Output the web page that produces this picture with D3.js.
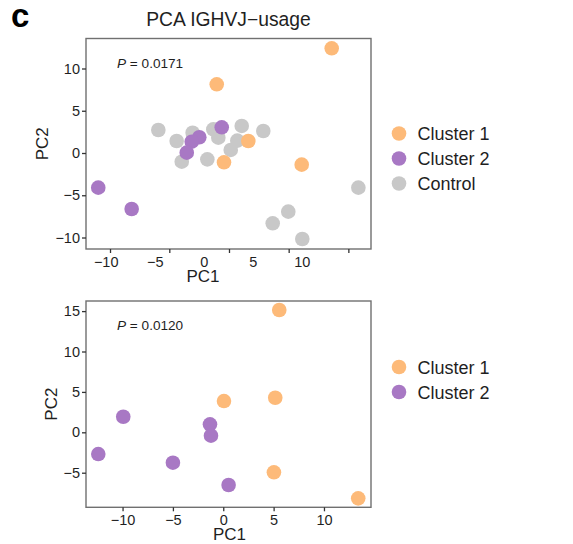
<!DOCTYPE html>
<html>
<head>
<meta charset="utf-8">
<script src="https://cdn.jsdelivr.net/npm/d3@7/dist/d3.min.js"></script>
<style>
  html, body { margin: 0; padding: 0; background: #fff; }
  svg { display: block; font-family: "Liberation Sans", Arial, sans-serif; }
</style>
</head>
<body>
<svg id="chart" width="573" height="544"></svg>
<script>
// Group names and colours
const groups = ["Cluster 1", "Cluster 2", "Control"];
const groupColors = ["#FDBA79", "#A878C4", "#C8C8C8"];

// Panel 1: PCA of IGHV-J usage, all samples  [PC1, PC2]
const topCluster1 = [[13.06, 12.39], [1.33, 8.13], [4.55, 1.42], [2.07, -1.10], [10.0, -1.38]];
const topCluster2 = [[-10.76, -4.10], [-7.35, -6.63], [1.84, 3.04], [-0.45, 1.86], [-1.22, 1.34], [-1.73, 0.04]];
const topControl = [[-4.63, 2.72], [-2.76, 1.42], [-1.13, 2.40], [-2.24, -1.03], [0.37, -0.75],
                    [0.98, 2.80], [1.49, 1.81], [2.76, 0.36], [3.43, 1.46], [3.88, 3.20],
                    [6.08, 2.60], [15.78, -4.10], [8.63, -6.94], [7.04, -8.32], [10.06, -10.18]];
const topXLabels = [-10, -5, 0, 5, 10];
const topXTickMarks = [-9.56, -3.51, 2.58, 8.67, 14.76];
const topYTicks = [-10, -5, 0, 5, 10];
const topXDomain = [-12.01, 17.07];
const topYDomain = [-11.36, 13.55];
const topP = "0.0171";

// Panel 2: clusters only  [PC1, PC2]
const botCluster1 = [[5.56, 15.14], [0.07, 3.87], [5.16, 4.28], [5.03, -4.95], [13.4, -8.17]];
const botCluster2 = [[-12.41, -2.69], [-9.93, 1.93], [-5.0, -3.76], [-1.32, 0.99], [-1.22, -0.42], [0.53, -6.52]];
const botXTicks = [-10, -5, 0, 5, 10];
const botYTicks = [-5, 0, 5, 10, 15];
const botXDomain = [-13.63, 14.67];
const botYDomain = [-9.28, 16.25];
const botP = "0.0120";

const svg = d3.select("#chart");
const color = d3.scaleOrdinal().domain(groups).range(groupColors);
const textCol = "#1f1f1f";

// Panel tag and title
svg.append("text").attr("x", 11).attr("y", 26.5)
  .attr("font-size", 33).attr("font-weight", "bold").attr("fill", "#000").text("c");
svg.append("text").attr("x", 228.5).attr("y", 25.7).attr("text-anchor", "middle")
  .attr("font-size", 19.3).attr("fill", textCol).text("PCA IGHVJ\u2212usage");

function panel(opts) {
  const { left, right, top, bottom } = opts.box;
  const x = d3.scaleLinear().domain(opts.xDomain).range([left, right]);
  const y = d3.scaleLinear().domain(opts.yDomain).range([bottom, top]);
  const g = svg.append("g");

  // points: controls underneath, clusters on top
  opts.series.forEach(s => {
    g.append("g").selectAll("circle").data(s.values).join("circle")
      .attr("cx", d => x(d[0])).attr("cy", d => y(d[1])).attr("r", 7.3)
      .attr("fill", color(s.name));
  });

  // frame
  g.append("rect").attr("x", left).attr("y", top)
    .attr("width", right - left).attr("height", bottom - top)
    .attr("fill", "none").attr("stroke", "#707070").attr("stroke-width", 1.4);

  const styleAxis = a => {
    a.select(".domain").remove();
    a.selectAll(".tick line").attr("stroke", "#333").attr("stroke-width", 1.3);
    a.selectAll(".tick text").attr("fill", textCol).attr("font-size", 14.5)
      .attr("font-family", "'Liberation Sans', Arial, sans-serif");
  };

  // y axis
  const ya = g.append("g").attr("transform", `translate(${left},0)`)
    .call(d3.axisLeft(y).tickValues(opts.yTicks).tickSize(4).tickPadding(2)
      .tickFormat(d => d3.format("d")(d).replace("-", "\u2212")));
  styleAxis(ya);

  // x axis: tick marks and tick labels
  const xa1 = g.append("g").attr("transform", `translate(0,${bottom})`)
    .call(d3.axisBottom(x).tickValues(opts.xTickMarks).tickSize(4).tickFormat(""));
  styleAxis(xa1);
  const xa2 = g.append("g").attr("transform", `translate(0,${bottom})`)
    .call(d3.axisBottom(x).tickValues(opts.xLabels).tickSize(0).tickPadding(7.4)
      .tickFormat(d => d3.format("d")(d).replace("-", "\u2212")));
  styleAxis(xa2);
  xa2.selectAll(".tick line").remove();

  // axis titles
  g.append("text").attr("x", opts.xTitleX).attr("y", bottom + 33)
    .attr("text-anchor", "middle").attr("font-size", 17).attr("fill", textCol).text("PC1");
  g.append("text")
    .attr("transform", `translate(${opts.yTitleX},${(top + bottom) / 2}) rotate(-90)`)
    .attr("text-anchor", "middle").attr("font-size", 17).attr("fill", textCol).text("PC2");

  // p value
  const pt = g.append("text").attr("x", left + 31).attr("y", top + 29)
    .attr("font-size", 13.6).attr("fill", textCol);
  pt.append("tspan").attr("font-style", "italic").text("P");
  pt.append("tspan").text(" = " + opts.p);

  // legend
  const lg = g.append("g");
  opts.series.slice().sort((a, b) => groups.indexOf(a.name) - groups.indexOf(b.name))
    .forEach((s, i) => {
      const cy = opts.legendY + i * 25;
      lg.append("circle").attr("cx", 399).attr("cy", cy).attr("r", 7.3).attr("fill", color(s.name));
      lg.append("text").attr("x", 417.5).attr("y", cy + 6.6)
        .attr("font-size", 18).attr("fill", textCol).text(s.name);
    });
}

panel({
  box: { left: 86, right: 371, top: 38.5, bottom: 249 },
  xDomain: topXDomain, yDomain: topYDomain,
  xLabels: topXLabels, xTickMarks: topXTickMarks, yTicks: topYTicks,
  xTitleX: 203, yTitleX: 47.5, p: topP, legendY: 133.5,
  series: [
    { name: "Control", values: topControl },
    { name: "Cluster 1", values: topCluster1 },
    { name: "Cluster 2", values: topCluster2 }
  ]
});

panel({
  box: { left: 86, right: 371, top: 301, bottom: 507.3 },
  xDomain: botXDomain, yDomain: botYDomain,
  xLabels: botXTicks, xTickMarks: botXTicks, yTicks: botYTicks,
  xTitleX: 229.5, yTitleX: 57, p: botP, legendY: 367,
  series: [
    { name: "Cluster 1", values: botCluster1 },
    { name: "Cluster 2", values: botCluster2 }
  ]
});
</script>
</body>
</html>
